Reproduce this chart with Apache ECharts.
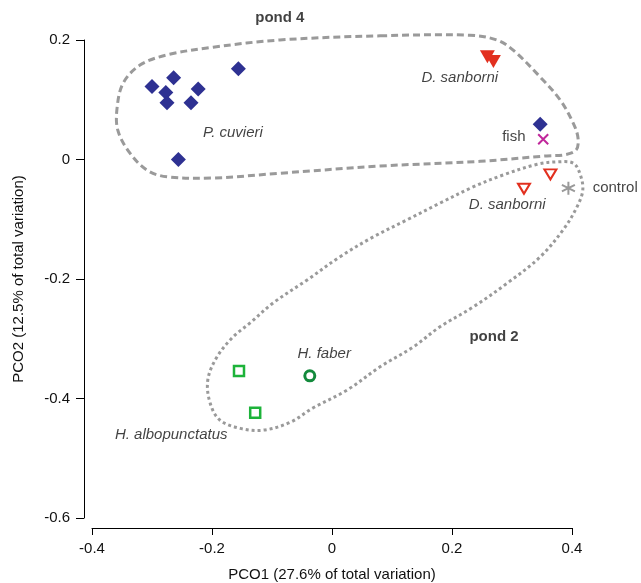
<!DOCTYPE html>
<html>
<head>
<meta charset="utf-8">
<script src="https://cdn.jsdelivr.net/npm/echarts@6/dist/echarts.min.js"></script>
<style>
html,body{margin:0;padding:0;background:#fff;}
#main{width:641px;height:583px;}
</style>
</head>
<body>
<div id="main"></div>
<script>
// ---- data (PCO1, PCO2) ----
const xTicks = [-0.4, -0.2, 0, 0.2, 0.4];
const yTicks = [-0.6, -0.4, -0.2, 0, 0.2];
const xTitle = 'PCO1 (27.6% of total variation)';
const yTitle = 'PCO2 (12.5% of total variation)';

const pCuvieri = [[-0.300, 0.122], [-0.264, 0.137], [-0.277, 0.112], [-0.275, 0.095],
                  [-0.223, 0.118], [-0.235, 0.095], [-0.156, 0.152], [-0.256, 0.000]];
const fishDiamond = [[0.347, 0.059]];
const fishCross = [[0.352, 0.034]];
const dSanborniPond4 = [[0.259, 0.172], [0.269, 0.164]];
const dSanborniPond2 = [[0.364, -0.025], [0.320, -0.049]];
const control = [[0.394, -0.048]];
const hAlbopunctatus = [[-0.155, -0.354], [-0.128, -0.424]];
const hFaber = [[-0.037, -0.362]];

// hull outlines (data coordinates)
const pond4Hull = [[0.080, 0.207], [0.230, 0.208], [0.275, 0.200], [0.302, 0.183], [0.347, 0.138],
  [0.380, 0.100], [0.402, 0.061], [0.410, 0.036], [0.407, 0.016], [0.388, 0.008], [0.358, 0.006],
  [0.247, -0.003], [0.080, -0.011], [-0.087, -0.023], [-0.198, -0.031], [-0.275, -0.029],
  [-0.308, -0.018], [-0.337, 0.011], [-0.357, 0.049], [-0.358, 0.088], [-0.348, 0.128],
  [-0.320, 0.158], [-0.275, 0.175], [-0.198, 0.188], [-0.087, 0.200]];
const pond2Hull = [[0.013, -0.163], [0.068, -0.130], [0.125, -0.101], [0.180, -0.073], [0.235, -0.046],
  [0.285, -0.026], [0.342, -0.008], [0.375, -0.004], [0.402, -0.006], [0.413, -0.023], [0.418, -0.051],
  [0.408, -0.080], [0.385, -0.118], [0.347, -0.163], [0.292, -0.207], [0.235, -0.247], [0.180, -0.280],
  [0.135, -0.314], [0.080, -0.347], [0.025, -0.386], [-0.032, -0.416], [-0.070, -0.440], [-0.115, -0.453],
  [-0.153, -0.450], [-0.187, -0.436], [-0.203, -0.408], [-0.207, -0.369], [-0.192, -0.331],
  [-0.165, -0.297], [-0.137, -0.274], [-0.098, -0.240], [-0.042, -0.202]];

// annotation texts and their anchors (data coordinates)
const noteTexts = ['pond 4', 'D. sanborni', 'P. cuvieri', 'fish', 'control', 'D. sanborni', 'pond 2', 'H. faber', 'H. albopunctatus'];
const noteAnchors = [[-0.087, 0.237], [0.213, 0.136], [-0.165, 0.044], [0.303, 0.038], [0.472, -0.048],
                     [0.292, -0.076], [0.270, -0.297], [-0.013, -0.326], [-0.268, -0.461]];
const noteKinds = ['bold', 'italic', 'italic', 'normal', 'normal', 'italic', 'bold', 'italic', 'italic'];

const FONT = '"Liberation Sans", Arial, Helvetica, sans-serif';
const TXT = '#111';
const chart = echarts.init(document.getElementById('main'), null, {renderer: 'canvas'});

function fmt(v) { return Math.abs(v) < 1e-9 ? '0' : v.toFixed(1); }

const crossPath = 'path://M0,0L10,10M10,0L0,10';
const starPath = 'path://M5,0L5,10M0.67,2.5L9.33,7.5M0.67,7.5L9.33,2.5';

const hulls = [pond4Hull, pond2Hull];
const hullDash = [[7, 4], [3, 3]];

const notes = noteTexts.map((t, i) => ({
  value: noteAnchors[i],
  label: {
    show: true, position: 'inside', formatter: t, color: TXT, fontFamily: FONT, fontSize: 15,
    textBorderWidth: 0,
    fontStyle: noteKinds[i] === 'italic' ? 'italic' : 'normal',
    fontWeight: noteKinds[i] === 'bold' ? 'bold' : 'normal'
  }
}));

chart.setOption({
  animation: false,
  backgroundColor: '#fff',
  grid: {left: 92, right: 69, top: 40, bottom: 65, containLabel: false, outerBoundsMode: 'none'},
  xAxis: {
    type: 'value', min: xTicks[0], max: xTicks[xTicks.length - 1], interval: 0.2, offset: 10,
    splitLine: {show: false},
    axisLine: {show: true, onZero: false, lineStyle: {color: '#000', width: 1}},
    axisTick: {show: true, length: 7, lineStyle: {color: '#000'}},
    axisLabel: {formatter: fmt, color: TXT, fontFamily: FONT, fontSize: 15, margin: 13},
    name: xTitle, nameLocation: 'middle', nameGap: 39,
    nameTextStyle: {color: TXT, fontFamily: FONT, fontSize: 15}
  },
  yAxis: {
    type: 'value', min: yTicks[0], max: yTicks[yTicks.length - 1], interval: 0.2, offset: 8,
    splitLine: {show: false},
    axisLine: {show: true, onZero: false, lineStyle: {color: '#000', width: 1}},
    axisTick: {show: true, length: 8, lineStyle: {color: '#000'}},
    axisLabel: {formatter: fmt, color: TXT, fontFamily: FONT, fontSize: 15, margin: 14},
    name: yTitle, nameLocation: 'middle', nameGap: 58, nameRotate: 90,
    nameTextStyle: {color: TXT, fontFamily: FONT, fontSize: 15}
  },
  series: [
    {type: 'custom', data: [0, 1], clip: false, silent: true, z: 1,
     renderItem: function (params, api) {
       const i = params.dataIndex;
       const pts = hulls[i].map(p => api.coord(p));
       return {
         type: 'polygon',
         shape: {points: pts, smooth: 0.35},
         style: {fill: 'none', stroke: '#9a9a9a', lineWidth: 3, lineDash: hullDash[i], lineCap: 'butt'}
       };
     }},
    {type: 'scatter', data: pCuvieri, symbol: 'diamond', symbolSize: 15, z: 3,
     itemStyle: {color: '#2e3192', opacity: 1}},
    {type: 'scatter', data: fishDiamond, symbol: 'diamond', symbolSize: 15, z: 3,
     itemStyle: {color: '#2e3192', opacity: 1}},
    {type: 'scatter', data: fishCross, symbol: crossPath, symbolSize: 10, z: 3,
     itemStyle: {color: 'none', borderColor: '#c0279b', borderWidth: 2, opacity: 1}},
    {type: 'scatter', data: dSanborniPond4, symbol: 'triangle', symbolRotate: 180, symbolSize: [15, 13], z: 3,
     itemStyle: {color: '#e2301f', opacity: 1}},
    {type: 'scatter', data: dSanborniPond2, symbol: 'triangle', symbolRotate: 180, symbolSize: [12, 10], z: 3,
     itemStyle: {color: '#fff', borderColor: '#e2301f', borderWidth: 2, opacity: 1}},
    {type: 'scatter', data: control, symbol: starPath, symbolSize: 13, z: 3, clip: false,
     itemStyle: {color: 'none', borderColor: '#9a9a9a', borderWidth: 2, opacity: 1}},
    {type: 'scatter', data: hAlbopunctatus, symbol: 'rect', symbolSize: 10, z: 3,
     itemStyle: {color: '#fff', borderColor: '#1db33a', borderWidth: 2.5, opacity: 1}},
    {type: 'scatter', data: hFaber, symbol: 'circle', symbolSize: 10, z: 3,
     itemStyle: {color: '#fff', borderColor: '#138a3c', borderWidth: 3, opacity: 1}},
    {type: 'scatter', data: notes, symbol: 'circle', symbolSize: 1, clip: false, silent: true, z: 4,
     itemStyle: {color: 'rgba(0,0,0,0)'}}
  ]
});
</script>
</body>
</html>
